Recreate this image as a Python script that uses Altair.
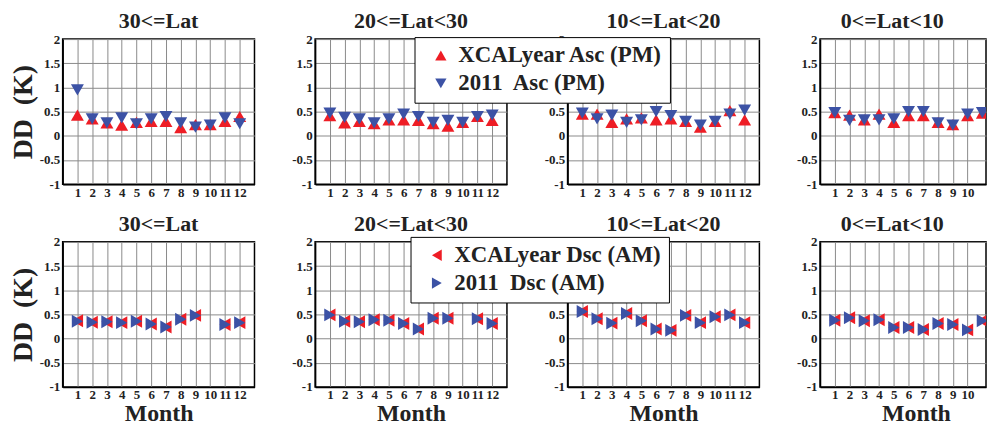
import altair as alt
import pandas as pd

FONT = "Liberation Serif"
RED = "#EE1D25"
BLUE = "#3C52A5"

months = list(range(1, 13))
titles = ["30<=Lat", "20<=Lat<30", "10<=Lat<20", "0<=Lat<10"]

# Ascending (PM) - top row
asc_xcal_30 = [0.43, 0.35, 0.27, 0.22, 0.28, 0.30, 0.30, 0.17, 0.23, 0.23, 0.30, 0.40]
asc_2011_30 = [0.95, 0.35, 0.27, 0.37, 0.25, 0.35, 0.40, 0.27, 0.18, 0.22, 0.37, 0.25]
asc_xcal_20 = [0.42, 0.27, 0.30, 0.25, 0.33, 0.33, 0.32, 0.25, 0.20, 0.28, 0.40, 0.32]
asc_2011_20 = [0.47, 0.38, 0.35, 0.27, 0.35, 0.45, 0.40, 0.28, 0.32, 0.28, 0.40, 0.43]
asc_xcal_10 = [0.45, 0.45, 0.28, 0.35, 0.37, 0.33, 0.35, 0.30, 0.18, 0.30, 0.52, 0.33]
asc_2011_10 = [0.47, 0.35, 0.43, 0.28, 0.33, 0.50, 0.42, 0.30, 0.22, 0.30, 0.45, 0.53]
asc_xcal_0 = [0.48, 0.43, 0.33, 0.45, 0.28, 0.42, 0.42, 0.28, 0.23, 0.42, 0.47, 0.45]
asc_2011_0 = [0.48, 0.32, 0.33, 0.33, 0.35, 0.50, 0.50, 0.27, 0.22, 0.45, 0.48, 0.50]

# Descending (AM) - bottom row
dsc_xcal_30 = [0.37, 0.34, 0.35, 0.33, 0.36, 0.30, 0.24, 0.40, 0.48, None, 0.29, 0.33]
dsc_2011_30 = [0.36, 0.34, 0.35, 0.33, 0.36, 0.30, 0.24, 0.40, 0.48, None, 0.29, 0.33]
dsc_xcal_20 = [0.49, 0.36, 0.35, 0.39, 0.38, 0.31, 0.20, 0.42, 0.42, None, 0.41, 0.31]
dsc_2011_20 = [0.49, 0.36, 0.35, 0.39, 0.38, 0.31, 0.20, 0.42, 0.42, None, 0.41, 0.31]
dsc_xcal_10 = [0.56, 0.41, 0.32, 0.52, 0.37, 0.20, 0.17, 0.48, 0.33, 0.45, 0.49, 0.33]
dsc_2011_10 = [0.56, 0.41, 0.32, 0.52, 0.37, 0.20, 0.17, 0.48, 0.33, 0.45, 0.49, 0.33]
dsc_xcal_0 = [0.38, 0.43, 0.37, 0.39, 0.23, 0.23, 0.19, 0.31, 0.29, 0.18, 0.37, 0.39]
dsc_2011_0 = [0.38, 0.43, 0.37, 0.39, 0.23, 0.23, 0.19, 0.31, 0.29, 0.18, 0.37, 0.39]

asc_series = ["XCALyear Asc (PM)", "2011\u00a0 Asc (PM)"]
dsc_series = ["XCALyear Dsc (AM)", "2011\u00a0 Dsc (AM)"]

asc_pairs = [(asc_xcal_30, asc_2011_30), (asc_xcal_20, asc_2011_20),
             (asc_xcal_10, asc_2011_10), (asc_xcal_0, asc_2011_0)]
dsc_pairs = [(dsc_xcal_30, dsc_2011_30), (dsc_xcal_20, dsc_2011_20),
             (dsc_xcal_10, dsc_2011_10), (dsc_xcal_0, dsc_2011_0)]

PW = 193          # full panel width (months 0..13)
STEP = PW / 13.0  # px per month
LAST_W = 167      # last panel is cut by the page edge, as in the reference


def make_df(pair, series):
    rows = []
    for k, vals in enumerate(pair):
        for m, v in zip(months, vals):
            if v is not None:
                rows.append({"month": m, "value": v, "series": series[k], "ord": k})
    return pd.DataFrame(rows)


def panel(df, title, idx, bottom, series, shapes, legend):
    last = idx == 3
    w = LAST_W if last else PW
    xmax = w / STEP
    xvals = [m for m in months if m <= xmax - 0.3]
    return alt.Chart(df, title=alt.Title(title, fontSize=22, font=FONT, fontWeight="bold",
                                         color="#222", offset=0,
                                         anchor="start" if last else "middle",
                                         dx=(PW / 2 - 52) if last else 0)).mark_point(
        filled=True, opacity=1, size=170, strokeWidth=0, clip=True
    ).encode(
        x=alt.X("month:Q", scale=alt.Scale(domain=[0, xmax], nice=False, zero=False),
                axis=alt.Axis(values=xvals, title="Month" if bottom else None,
                              titleFontSize=24, titlePadding=0, ticks=False,
                              labelPadding=2, labelOverlap=False,
                              titleX=PW / 2 if last else alt.Undefined)),
        y=alt.Y("value:Q", scale=alt.Scale(domain=[-1, 2], nice=False),
                axis=alt.Axis(values=[-1, -0.5, 0, 0.5, 1, 1.5, 2],
                              labelExpr="datum.value + ''",
                              title="DD\u00a0 (K)" if idx == 0 else None,
                              titleFontSize=28, titlePadding=2, ticks=False,
                              labelPadding=3)),
        color=alt.Color("series:N", scale=alt.Scale(domain=series, range=[RED, BLUE]),
                        legend=legend),
        shape=alt.Shape("series:N", scale=alt.Scale(domain=series, range=shapes),
                        legend=legend),
        order=alt.Order("ord:Q"),
    ).properties(width=w, height=146)


def mk_legend(x, y):
    return alt.Legend(title=None, orient="none", legendX=x, legendY=y,
                      fillColor="white", strokeColor="black", padding=7,
                      labelFont=FONT, labelFontWeight="bold", labelFontSize=23,
                      labelColor="#222", labelLimit=400, symbolSize=130, symbolOffset=8,
                      labelOffset=6, rowPadding=4, symbolStrokeWidth=0)


top_leg = mk_legend(354, -2)
bot_leg = mk_legend(350, -5)

row1 = alt.hconcat(*[
    panel(make_df(asc_pairs[i], asc_series), titles[i], i, False, asc_series,
          ["triangle-up", "triangle-down"], top_leg)
    for i in range(4)
], spacing=35)

row2 = alt.hconcat(*[
    panel(make_df(dsc_pairs[i], dsc_series), titles[i], i, True, dsc_series,
          ["triangle-left", "triangle-right"], bot_leg)
    for i in range(4)
], spacing=35)

chart = alt.vconcat(row1, row2, spacing=12).resolve_scale(
    color="independent", shape="independent"
).properties(
    padding={"left": 0, "top": 0, "right": 0, "bottom": 0}
).configure_axis(
    labelFont=FONT, labelFontWeight="bold", labelFontSize=13, labelColor="#222",
    titleFont=FONT, titleFontWeight="bold", titleColor="#222",
    gridColor="#8a8a8a", gridWidth=1, gridOpacity=1,
    domainColor="black", domainWidth=1.5,
).configure_view(
    stroke="black", strokeWidth=1.5
)

chart.save("out.html", embed_options={"renderer": "svg", "actions": False})
